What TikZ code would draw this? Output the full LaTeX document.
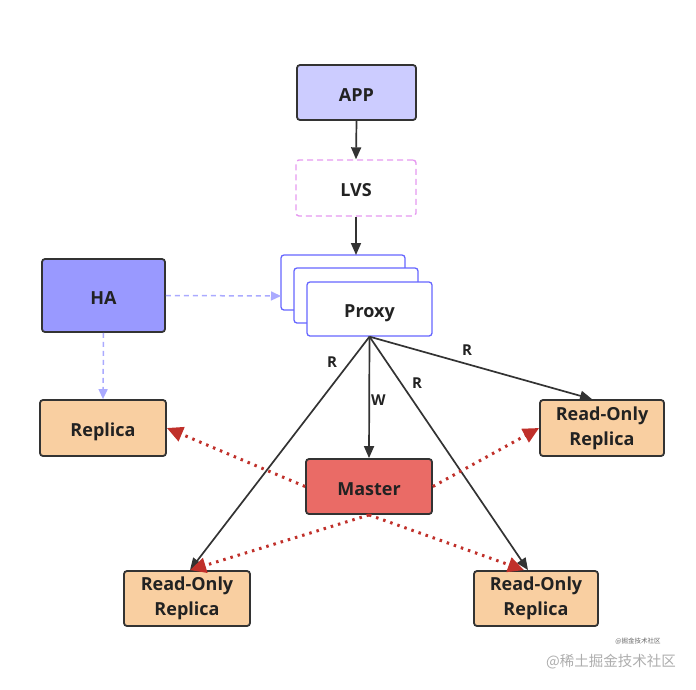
\documentclass[tikz,border=0pt]{standalone}
\usepackage{fontspec}
\setmainfont{Open Sans}
\newfontfamily\cjkfont{Noto Sans CJK SC}
\usetikzlibrary{arrows.meta,calc}
\definecolor{dk}{HTML}{333333}
\definecolor{txt}{HTML}{222222}
\definecolor{appc}{HTML}{CCCCFF}
\definecolor{hac}{HTML}{9999FF}
\definecolor{peach}{HTML}{F9CFA1}
\definecolor{mast}{HTML}{EA6B66}
\definecolor{lvsb}{HTML}{E699F0}
\definecolor{proxyb}{HTML}{6666FF}
\definecolor{hadash}{HTML}{AAAAFF}
\definecolor{redd}{HTML}{C0302A}
\tikzset{
  box/.style={draw=dk, line width=1.8pt, rounded corners=3pt, font=\fontsize{18}{25}\selectfont\bfseries, text=txt, align=center, inner sep=0pt},
  oneline/.style={text height=17.8pt, text depth=0pt},
  darrow/.style={draw=dk, line width=1.7pt, -{Triangle[length=12pt,width=10pt]}},
  harrow/.style={draw=hadash, line width=1.5pt, dash pattern=on 5pt off 4pt, -{Triangle[length=10pt,width=9pt]}},
  rarrow/.style={draw=redd, line width=3pt, dash pattern=on 2.5pt off 5pt, -{Triangle[length=16pt,width=15pt]}},
  lbl/.style={font=\fontsize{15}{18}\selectfont\bfseries, text=txt, inner sep=1pt},
  pbox/.style={draw=proxyb, line width=1.3pt, fill=white, rounded corners=3pt}
}
\begin{document}
\begin{tikzpicture}[x=1pt,y=-1pt]
\useasboundingbox (0,0) rectangle (696,689);
% nodes
\node[box, oneline, fill=appc, minimum width=119pt, minimum height=55pt] (app) at (356.5,92.5) {APP};
\node[box, oneline, draw=lvsb, dash pattern=on 6pt off 4pt, line width=1.4pt, fill=white, minimum width=120pt, minimum height=56pt] (lvs) at (356,188) {LVS};
\draw[pbox] (281,255) rectangle (405,310);
\coordinate (pback) at (356,255);
\coordinate (pleft) at (281,296);
\draw[pbox] (294,268) rectangle (418,323);
\node[pbox, oneline, minimum width=125pt, minimum height=54pt, font=\fontsize{18}{20}\selectfont\bfseries, text=txt, inner sep=0pt] (proxy) at (369.5,309) {Proxy};
\node[box, oneline, fill=hac, minimum width=123pt, minimum height=73pt] (ha) at (103.5,295.5) {HA};
\node[box, oneline, fill=peach, minimum width=126pt, minimum height=56pt] (rep) at (103,428) {Replica};
\node[box, oneline, fill=mast, minimum width=126pt, minimum height=55pt] (master) at (369,486.5) {Master};
\node[box, fill=peach, minimum width=124pt, minimum height=56pt] (ror) at (602,428) {Read-Only\\Replica};
\node[box, fill=peach, minimum width=126pt, minimum height=55pt] (robl) at (187,598.5) {Read-Only\\Replica};
\node[box, fill=peach, minimum width=124pt, minimum height=55pt] (robr) at (536,598.5) {Read-Only\\Replica};
% connectors
\draw[darrow] (app.south) -- (lvs.north);
\draw[darrow] (lvs.south) -- (pback);
\draw[harrow] (ha.east) -- (pleft);
\draw[harrow] (ha.south) -- (rep.north);
\draw[darrow] (proxy.south) -- node[lbl, right, pos=0.52] {W} (master.north);
\draw[darrow] (proxy.south) -- ($(robl.north)+(3,0)$);
\draw[darrow] (proxy.south) -- ($(robr.north)+(-8,0)$);
\draw[darrow] (proxy.south) -- ($(ror.north)+(-10,0)$);
\node[lbl] (r1) at (332,362) {R};
\node[lbl] (r2) at (417,383) {R};
\node[lbl] (r3) at (467,350) {R};
\draw[rarrow] (master.west) -- (rep.east);
\draw[rarrow] (master.east) -- (ror.west);
\draw[rarrow] (master.south) -- ($(robl.north)+(3,0)$);
\draw[rarrow] (master.south) -- ($(robr.north)+(-12,0)$);
% watermark
\node[font=\cjkfont\fontsize{6.5}{7}\selectfont, text=black!60, inner sep=0pt] (wm1) at (638,641.5) {@掘金技术社区};
\node[font=\cjkfont\fontsize{14.5}{17}\selectfont, text=black!32, inner sep=0pt] (wm2) at (611,661.5) {@稀土掘金技术社区};
\end{tikzpicture}
\end{document}
